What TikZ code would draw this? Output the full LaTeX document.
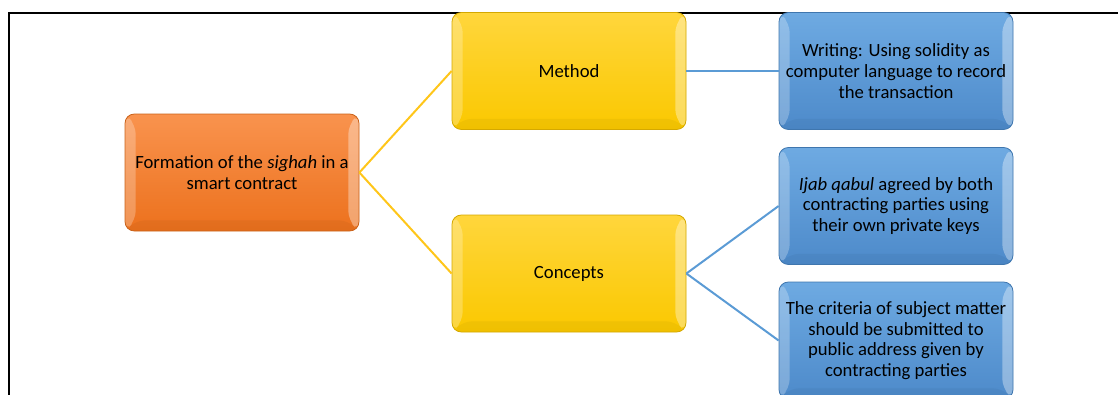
\documentclass[tikz,border=0pt]{standalone}
\usepackage{fontspec}
\setmainfont{Carlito}
\usetikzlibrary{positioning}

\definecolor{orangetop}{HTML}{F9934E}
\definecolor{orangebot}{HTML}{EC711D}
\definecolor{orangeedge}{HTML}{C9621A}
\definecolor{goldtop}{HTML}{FFD63C}
\definecolor{goldbot}{HTML}{FAC800}
\definecolor{goldedge}{HTML}{D4A800}
\definecolor{bluetop}{HTML}{6EAAE2}
\definecolor{bluebot}{HTML}{4D8ACA}
\definecolor{blueedge}{HTML}{3F76AE}
\definecolor{goldline}{HTML}{FFC61A}
\definecolor{blueline}{HTML}{5B9BD5}

\tikzset{
  bevel/.style={path picture={
    \fill[white,opacity=0.25] (path picture bounding box.north west)
      -- ([shift={(8pt,-8pt)}]path picture bounding box.north west)
      -- ([shift={(8pt,8pt)}]path picture bounding box.south west)
      -- (path picture bounding box.south west) -- cycle;
    \fill[white,opacity=0.35] (path picture bounding box.north east)
      -- ([shift={(-8pt,-8pt)}]path picture bounding box.north east)
      -- ([shift={(-8pt,8pt)}]path picture bounding box.south east)
      -- (path picture bounding box.south east) -- cycle;
    \fill[black,opacity=0.04] (path picture bounding box.south west)
      -- ([shift={(8pt,8pt)}]path picture bounding box.south west)
      -- ([shift={(-8pt,8pt)}]path picture bounding box.south east)
      -- (path picture bounding box.south east) -- cycle;
  }},
  card/.style={draw=#1edge, line width=0.6pt, rounded corners=7pt,
    minimum width=175.5pt, minimum height=87.75pt, align=center,
    font=\fontsize{14}{15.5}\selectfont, top color=#1top, bottom color=#1bot, bevel},
  goldlink/.style={draw=goldline, line width=1.5pt},
  bluelink/.style={draw=blueline, line width=1.5pt}
}

\begin{document}
\begin{tikzpicture}[x=0.75pt,y=-0.75pt]
\useasboundingbox (0,0) rectangle (1118,394);
\clip (0,0) rectangle (1118,394);
% frame of the page
\draw[line width=1.5pt] (9,400) -- (9,13) -- (1120,13);

\node[card=orange] (form) at (242,172.5) {Formation of the \textit{sighah} in a\\smart contract};
\node[card=gold] (method) at (569,71) {Method};
\node[card=gold] (concepts) at (569,273.5) {Concepts};
\node[card=blue] (writing) at (896,71) {Writing: Using solidity as\\computer language to record\\the transaction};
\node[card=blue] (ijab) at (896,206) {\textit{Ijab qabul} agreed by both\\contracting parties using\\their own private keys};
\node[card=blue] (criteria) at (896,340.5) {The criteria of subject matter\\should be submitted to\\public address given by\\contracting parties};

\draw[goldlink] (form.east) -- (method.west);
\draw[goldlink] (form.east) -- (concepts.west);
\draw[bluelink] (method.east) -- (writing.west);
\draw[bluelink] (concepts.east) -- (ijab.west);
\draw[bluelink] (concepts.east) -- (criteria.west);
\end{tikzpicture}
\end{document}
